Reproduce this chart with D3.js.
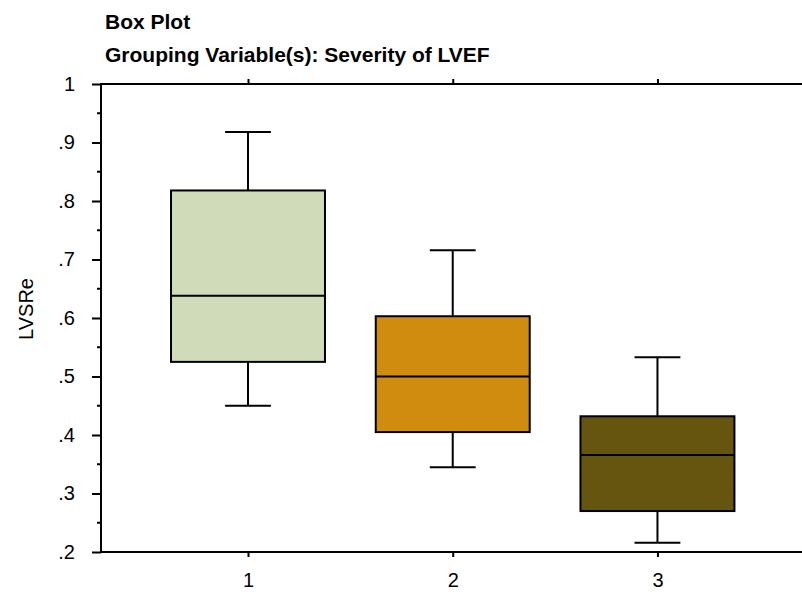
<!DOCTYPE html>
<html>
<head>
<meta charset="utf-8">
<script src="https://cdn.jsdelivr.net/npm/d3@7"></script>
<style>
  html, body { margin: 0; padding: 0; background: #fff; }
  text { font-family: "Liberation Sans", Arial, sans-serif; }
</style>
</head>
<body>
<div id="chart"></div>
<script>
const categories = ["1", "2", "3"];
const maxs    = [0.918, 0.716, 0.533];
const q3s     = [0.818, 0.603, 0.432];
const medians = [0.638, 0.500, 0.366];
const q1s     = [0.525, 0.405, 0.270];
const mins    = [0.450, 0.345, 0.216];
const colors  = ["#cfdbb9", "#d08c0e", "#65550e"];
const yTicks  = [0.2, 0.3, 0.4, 0.5, 0.6, 0.7, 0.8, 0.9, 1.0];
const yTickLabels = [".2", ".3", ".4", ".5", ".6", ".7", ".8", ".9", "1"];
const title1 = "Box Plot";
const title2 = "Grouping Variable(s): Severity of LVEF";
const yLabel = "LVSRe";

const W = 802, H = 592;
const svg = d3.select("#chart").append("svg").attr("width", W).attr("height", H);

const mLeft = 101, mRight = 802, mTop = 84, mBottom = 552;
const x = d3.scaleLinear().domain([0.282, 3.706]).range([mLeft, mRight]);
const y = d3.scaleLinear().domain([0.2, 1.0]).range([mBottom, mTop]);

const data = categories.map((c, i) => ({
  c: +c, label: c, max: maxs[i], q3: q3s[i], med: medians[i], q1: q1s[i], min: mins[i], color: colors[i]
}));

const boxHalf = 0.376, capHalf = 0.112;
const FONT = "Liberation Sans, Arial, sans-serif";

// titles
svg.append("text").attr("x", 105).attr("y", 29)
  .attr("font-size", 21).attr("font-weight", "bold").text(title1);
svg.append("text").attr("x", 105).attr("y", 62)
  .attr("font-size", 21).attr("font-weight", "bold").text(title2);

// y axis
const yAxis = d3.axisLeft(y).tickValues(yTicks)
  .tickFormat((d, i) => yTickLabels[i]).tickSize(9).tickPadding(17);
const gy = svg.append("g").attr("transform", `translate(${mLeft},0)`).call(yAxis);
gy.select(".domain").remove();
gy.selectAll(".tick line").attr("stroke", "#000").attr("stroke-width", 2);
gy.selectAll(".tick text").attr("font-size", 20).attr("font-family", FONT).attr("fill", "#000");
// minor ticks
const minor = d3.range(0.25, 1.0, 0.1);
svg.append("g").selectAll("line").data(minor).join("line")
  .attr("x1", mLeft - 4).attr("x2", mLeft)
  .attr("y1", d => y(d)).attr("y2", d => y(d))
  .attr("stroke", "#000").attr("stroke-width", 2);

// frame lines
svg.append("line").attr("x1", mLeft).attr("x2", mLeft).attr("y1", mTop - 1).attr("y2", mBottom + 1)
  .attr("stroke", "#000").attr("stroke-width", 2);
svg.append("line").attr("x1", mLeft).attr("x2", mRight).attr("y1", mTop).attr("y2", mTop)
  .attr("stroke", "#000").attr("stroke-width", 2);
svg.append("line").attr("x1", mLeft).attr("x2", mRight).attr("y1", mBottom).attr("y2", mBottom)
  .attr("stroke", "#000").attr("stroke-width", 2);

// bottom axis ticks + labels
const xAxis = d3.axisBottom(x).tickValues(data.map(d => d.c))
  .tickFormat((d, i) => categories[i]).tickSize(5).tickPadding(16);
const gx = svg.append("g").attr("transform", `translate(0,${mBottom})`).call(xAxis);
gx.select(".domain").remove();
gx.selectAll(".tick line").attr("stroke", "#000").attr("stroke-width", 2);
gx.selectAll(".tick text").attr("font-size", 20).attr("font-family", FONT).attr("fill", "#000");

// top ticks
const xTop = d3.axisTop(x).tickValues(data.map(d => d.c)).tickFormat("").tickSize(5);
const gt = svg.append("g").attr("transform", `translate(0,${mTop})`).call(xTop);
gt.select(".domain").remove();
gt.selectAll(".tick line").attr("stroke", "#000").attr("stroke-width", 2);

// y label
svg.append("text").attr("transform", `translate(33,309) rotate(-90)`)
  .attr("text-anchor", "middle").attr("font-size", 20).text(yLabel);

// boxes
const g = svg.append("g");
const bx = g.selectAll("g.box").data(data).join("g").attr("class", "box");
bx.append("line").attr("x1", d => x(d.c)).attr("x2", d => x(d.c))
  .attr("y1", d => y(d.max)).attr("y2", d => y(d.q3)).attr("stroke", "#000").attr("stroke-width", 2);
bx.append("line").attr("x1", d => x(d.c)).attr("x2", d => x(d.c))
  .attr("y1", d => y(d.q1)).attr("y2", d => y(d.min)).attr("stroke", "#000").attr("stroke-width", 2);
bx.append("line").attr("x1", d => x(d.c - capHalf)).attr("x2", d => x(d.c + capHalf))
  .attr("y1", d => y(d.max)).attr("y2", d => y(d.max)).attr("stroke", "#000").attr("stroke-width", 2);
bx.append("line").attr("x1", d => x(d.c - capHalf)).attr("x2", d => x(d.c + capHalf))
  .attr("y1", d => y(d.min)).attr("y2", d => y(d.min)).attr("stroke", "#000").attr("stroke-width", 2);
bx.append("rect").attr("x", d => x(d.c - boxHalf)).attr("width", d => x(d.c + boxHalf) - x(d.c - boxHalf))
  .attr("y", d => y(d.q3)).attr("height", d => y(d.q1) - y(d.q3))
  .attr("fill", d => d.color).attr("stroke", "#000").attr("stroke-width", 2);
bx.append("line").attr("x1", d => x(d.c - boxHalf)).attr("x2", d => x(d.c + boxHalf))
  .attr("y1", d => y(d.med)).attr("y2", d => y(d.med)).attr("stroke", "#000").attr("stroke-width", 2);
</script>
</body>
</html>
